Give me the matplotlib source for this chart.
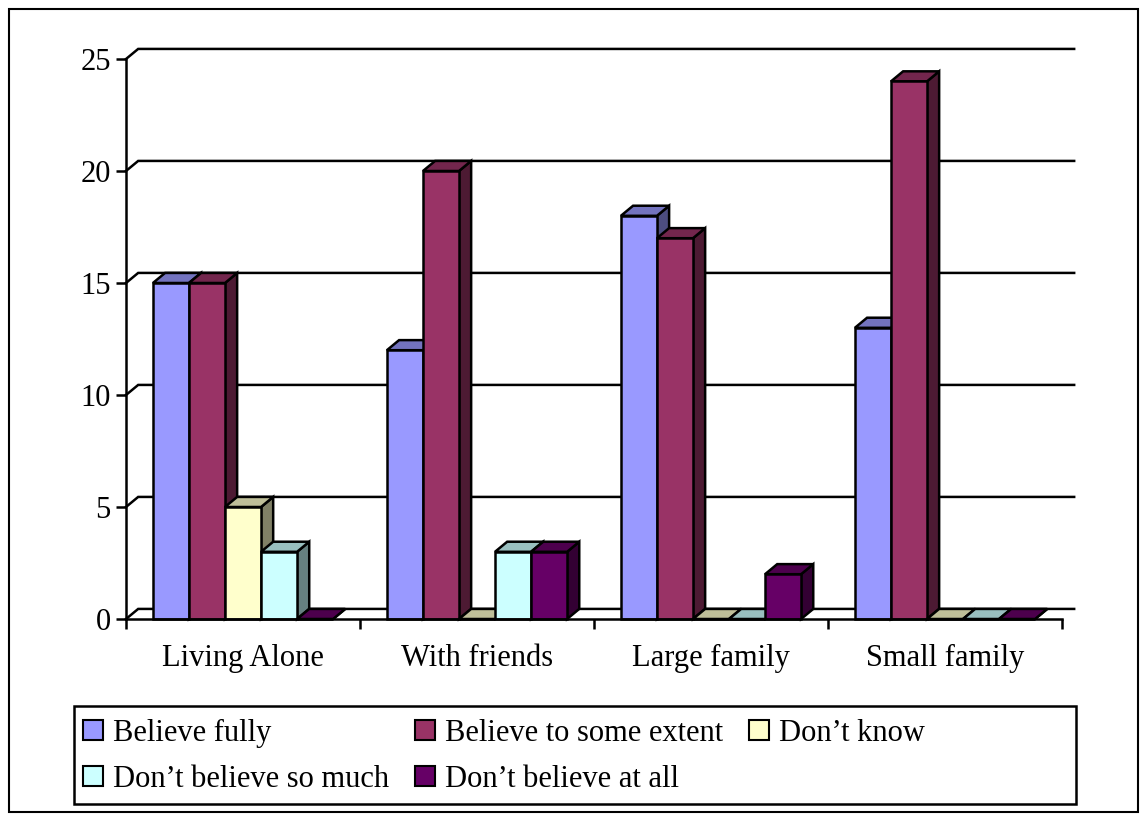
import matplotlib
matplotlib.use("Agg")
import matplotlib.pyplot as plt
from matplotlib.patches import Polygon, Patch, Rectangle
from matplotlib.colors import to_rgb
import numpy as np

categories = ["Living Alone", "With friends", "Large family", "Small family"]
series_labels = [
    "Believe fully",
    "Believe to some extent",
    "Don\u2019t know",
    "Don\u2019t believe so much",
    "Don\u2019t believe at all",
]
believe_fully = [15, 12, 18, 13]
believe_some = [15, 20, 17, 24]
dont_know = [5, 0, 0, 0]
dont_believe_much = [3, 3, 0, 0]
dont_believe_all = [0, 3, 2, 0]
series_values = [believe_fully, believe_some, dont_know, dont_believe_much, dont_believe_all]
series_colors = ["#9999FF", "#993366", "#FFFFCC", "#CCFFFF", "#660066"]

plt.rcParams["font.family"] = ["Liberation Serif", "DejaVu Serif"]

W, H = 1141, 814
fig = plt.figure(figsize=(W / 100, H / 100), dpi=100)
ax = fig.add_axes([126 / W, (H - 619) / H, 936 / W, 560 / H])
ncat = len(categories)
ax.set_xlim(0, ncat)
ax.set_ylim(0, 25)
ax.patch.set_visible(False)

# depth of the pseudo-3D view, in data units
DX, DY = 0.052, 0.45
GAP = 0.115
BAR_W = (1 - 2 * GAP) / len(series_values)
EDGE = 1.8


def shade(color, f):
    return tuple(c * f for c in to_rgb(color))


# back wall gridlines, each with its slant back from the front axis
for v in range(0, 30, 5):
    ax.plot([0, DX, ncat + DX], [v, v + DY, v + DY], color="black", lw=EDGE,
            clip_on=False, zorder=1, solid_joinstyle="miter")

z = 2
for i in range(ncat):
    for j, vals in enumerate(series_values):
        x0 = i + GAP + j * BAR_W
        x1 = x0 + BAR_W
        v = vals[i]
        col = series_colors[j]
        side = [(x1, 0), (x1 + DX, DY), (x1 + DX, v + DY), (x1, v)]
        top = [(x0, v), (x1, v), (x1 + DX, v + DY), (x0 + DX, v + DY)]
        front = [(x0, 0), (x1, 0), (x1, v), (x0, v)]
        for pts, f in ((side, 0.5), (top, 0.75), (front, 1.0)):
            ax.add_patch(Polygon(pts, closed=True, facecolor=shade(col, f),
                                 edgecolor="black", lw=EDGE, joinstyle="miter",
                                 clip_on=False, zorder=z))
        z += 1

for s in ("top", "right"):
    ax.spines[s].set_visible(False)
for s in ("left", "bottom"):
    ax.spines[s].set_linewidth(EDGE)
    ax.spines[s].set_zorder(50)

ax.set_yticks(range(0, 30, 5))
ax.tick_params(axis="y", direction="out", length=7, width=EDGE, pad=4, labelsize=22)
ax.set_xticks(range(ncat + 1))
ax.set_xticklabels([])
ax.tick_params(axis="x", which="major", direction="out", length=7, width=EDGE)
ax.set_xticks(np.arange(ncat) + 0.5, minor=True)
ax.set_xticklabels(categories, minor=True)
ax.tick_params(axis="x", which="minor", length=0, pad=18, labelsize=22)

# legend filled row by row: reorder for matplotlib's column-major layout
handles = [Patch(facecolor=c, edgecolor="black", lw=1.5) for c in series_colors]
order = [0, 3, 1, 4, 2]
fig.legend([handles[k] for k in order], [series_labels[k] for k in order],
           ncol=3, loc="upper left", bbox_to_anchor=(83 / W, 1 - 719 / H),
           frameon=False, fontsize=22, borderpad=0, borderaxespad=0,
           handlelength=0.65, handleheight=0.65, handletextpad=0.33,
           columnspacing=0.85, labelspacing=0.55)
fig.add_artist(Rectangle((74 / W, 1 - 804 / H), 1002 / W, 98 / H,
                         transform=fig.transFigure, fill=False,
                         edgecolor="black", lw=1.8))

# chart area border
fig.add_artist(Rectangle((9 / W, 1 - 812 / H), 1129 / W, 803 / H,
                         transform=fig.transFigure, fill=False,
                         edgecolor="black", lw=1.5))

fig.savefig("out.png", dpi=100)
